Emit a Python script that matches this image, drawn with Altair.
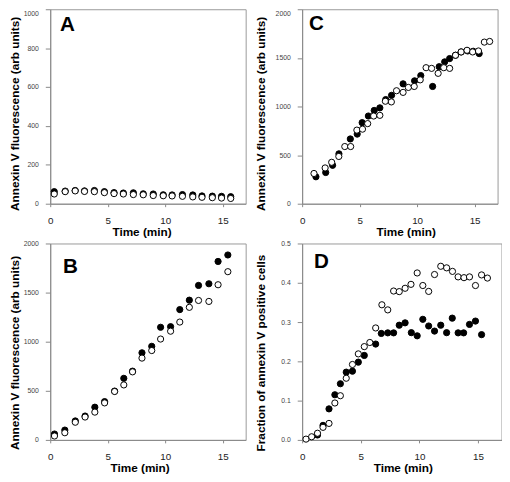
import altair as alt
import pandas as pd

FONT = "Liberation Sans"

# ---------------- Panel A ----------------
a_time = [0.35, 1.3, 2.17, 2.98, 3.84, 4.71, 5.55, 6.36, 7.23, 8.09, 8.96, 9.83,
          10.6, 11.5, 12.4, 13.2, 14.1, 14.9, 15.7]
a_filled = [62, 65, 68, 66, 68, 62, 57, 55, 56, 51, 50, 46, 45, 47, 45, 40, 39, 38, 36]
a_open = [50, 62, 66, 63, 62, 57, 52, 50, 47, 46, 42, 41, 40, 38, 35, 33, 31, 29, 27]

# ---------------- Panel B ----------------
b_time = [0.37, 1.27, 2.18, 3.03, 3.88, 4.73, 5.6, 6.4, 7.16, 7.98, 8.83, 9.6,
          10.47, 11.27, 12.1, 12.9, 13.8, 14.6, 15.45]
b_filled = [60, 100, 193, 243, 333, 390, 497, 627, 700, 887, 953, 1147, 1153,
            1327, 1423, 1573, 1590, 1817, 1883]
b_open = [40, 73, 180, 233, 283, 377, 493, 560, 693, 833, 910, 1027, 1107,
          1200, 1350, 1420, 1410, 1580, 1713]

# ---------------- Panel C ----------------
c_time_f = [1.2, 2.05, 2.65, 3.2, 4.19, 4.79, 5.22, 5.76, 6.27, 6.76, 7.27, 7.78,
            8.78, 9.78, 10.32, 11.35, 11.92, 12.4, 12.83, 13.34, 13.83, 14.4, 14.88, 15.4]
c_filled = [277, 321, 395, 513, 666, 716, 834, 902, 959, 986, 1071, 1115, 1233,
            1264, 1318, 1206, 1409, 1459, 1493, 1527, 1561, 1571, 1568, 1544]
c_time_o = [1.03, 2.0, 2.57, 3.19, 3.71, 4.22, 4.76, 5.25, 5.7, 6.22, 6.76, 7.24,
            7.76, 8.21, 8.78, 9.24, 9.75, 10.27, 10.78, 11.26, 11.83, 12.32, 12.83,
            13.34, 13.83, 14.34, 14.83, 15.34, 15.85, 16.31]
c_open = [311, 368, 426, 486, 588, 588, 757, 767, 824, 902, 909, 1054, 1047, 1162,
          1145, 1196, 1206, 1274, 1399, 1392, 1341, 1399, 1392, 1527, 1561, 1578,
          1561, 1571, 1662, 1669]

# ---------------- Panel D ----------------
d_time_f = [1.31, 1.78, 2.29, 2.79, 3.26, 3.76, 4.29, 4.79, 5.3, 6.27, 6.75, 7.3,
            7.8, 8.28, 8.78, 9.31, 9.81, 10.29, 10.79, 11.29, 11.82, 12.32, 12.8,
            13.3, 13.77, 14.27, 14.78, 15.3]
d_filled = [0.0125, 0.037, 0.079, 0.115, 0.143, 0.1725, 0.175, 0.198, 0.215, 0.244,
            0.271, 0.2725, 0.2725, 0.292, 0.298, 0.273, 0.265, 0.307, 0.29, 0.277,
            0.292, 0.273, 0.31, 0.2725, 0.2725, 0.294, 0.3025, 0.268]
d_time_o = [0.33, 0.81, 1.31, 1.78, 2.29, 2.79, 3.26, 3.76, 4.29, 4.79, 5.3, 5.77,
            6.27, 6.8, 7.3, 7.8, 8.28, 8.78, 9.28, 9.81, 10.29, 10.79, 11.29, 11.82,
            12.32, 12.82, 13.3, 13.8, 14.27, 14.78, 15.3, 15.8]
d_open = [0.002, 0.008, 0.017, 0.032, 0.042, 0.094, 0.1125, 0.157, 0.192, 0.219,
          0.2375, 0.248, 0.285, 0.344, 0.331, 0.379, 0.3775, 0.386, 0.396, 0.425,
          0.393, 0.378, 0.421, 0.442, 0.438, 0.429, 0.415, 0.413, 0.415, 0.393,
          0.42, 0.412]

x_ticks = [0, 5, 10, 15]
y_ticks_a = [0, 200, 400, 600, 800, 1000]
y_ticks_bc = [0, 500, 1000, 1500, 2000]
y_ticks_d = [0, 0.1, 0.2, 0.3, 0.4, 0.5]

title_fluor = "Annexin V fluorescence (arb units)"
title_frac = "Fraction of annexin V positive cells"


def panel(tf, vf, to, vo, ymax, yvals, yfmt, ytitle, letter, w, h, ext,
          xtitle_x, ytitle_y, lx, ly, top_flush):
    df_f = pd.DataFrame({"t": tf, "v": vf})
    df_o = pd.DataFrame({"t": to, "v": vo})
    x = alt.X("t:Q", scale=alt.Scale(domain=[0, 17], nice=False, zero=False),
              axis=alt.Axis(values=x_ticks, title="Time (min)", tickSize=3,
                            labelPadding=9, labelFontSize=10, labelFont=FONT,
                            labelColor="#222", domainColor="#888", tickColor="#888",
                            titleFont=FONT, titleFontSize=12, titleFontWeight="bold",
                            titleColor="black", titlePadding=1, minExtent=22,
                            maxExtent=22, grid=False, labelFlush=False,
                            titleX=xtitle_x))
    baseline = (alt.expr(f"datum.value >= {ymax} ? 'top' : 'middle'")
                if top_flush else "middle")
    y = alt.Y("v:Q", scale=alt.Scale(domain=[0, ymax], nice=False),
              axis=alt.Axis(values=yvals, format=yfmt, title=ytitle, tickSize=5,
                            labelPadding=7, labelFontSize=7, labelFont=FONT,
                            labelColor="#444", domainColor="#888", tickColor="#888",
                            labelBaseline=baseline,
                            titleFont=FONT, titleFontSize=12, titleFontWeight="bold",
                            titleColor="black", titlePadding=3, minExtent=ext,
                            maxExtent=ext, grid=False, titleY=ytitle_y,
                            labelFlush=False))
    filled = alt.Chart(df_f).mark_circle(size=40, color="black", opacity=1,
                                         stroke="black", strokeWidth=1).encode(x=x, y=y)
    opened = alt.Chart(df_o).mark_circle(size=40, fill="white", opacity=1,
                                         stroke="black", strokeWidth=1).encode(x=x, y=y)
    lab = alt.Chart(pd.DataFrame({"s": [letter]})).mark_text(
        align="left", baseline="alphabetic", fontSize=21, fontWeight="bold",
        font=FONT, color="black").encode(text="s:N", x=alt.value(lx), y=alt.value(ly))
    return alt.layer(filled, opened, lab).properties(width=w, height=h)


A = panel(a_time, a_filled, a_time, a_open, 1000, y_ticks_a, "d", title_fluor, "A",
          199, 198, 26, 93, 106, 10, 22, True)
C = panel(c_time_f, c_filled, c_time_o, c_open, 2000, y_ticks_bc, "d", title_fluor, "C",
          199, 198, 32, 105.5, 106, 7, 21, True)
B = panel(b_time, b_filled, b_time, b_open, 2000, y_ticks_bc, "d", title_fluor, "B",
          199, 200, 26, 91, 111, 13, 30, False)
D = panel(d_time_f, d_filled, d_time_o, d_open, 0.5, y_ticks_d, ".1f", title_frac, "D",
          203, 200, 32, 102.5, 111, 12, 25, False)

chart = alt.vconcat(
    alt.hconcat(A, C, spacing=7.5),
    alt.hconcat(B, D, spacing=7.5),
    spacing=0.5,
).properties(
    padding={"top": -4, "left": 0, "right": 0, "bottom": 0}
).configure_view(stroke="#999", strokeWidth=1)

chart.save("out.html", embed_options={"renderer": "svg", "actions": False})
